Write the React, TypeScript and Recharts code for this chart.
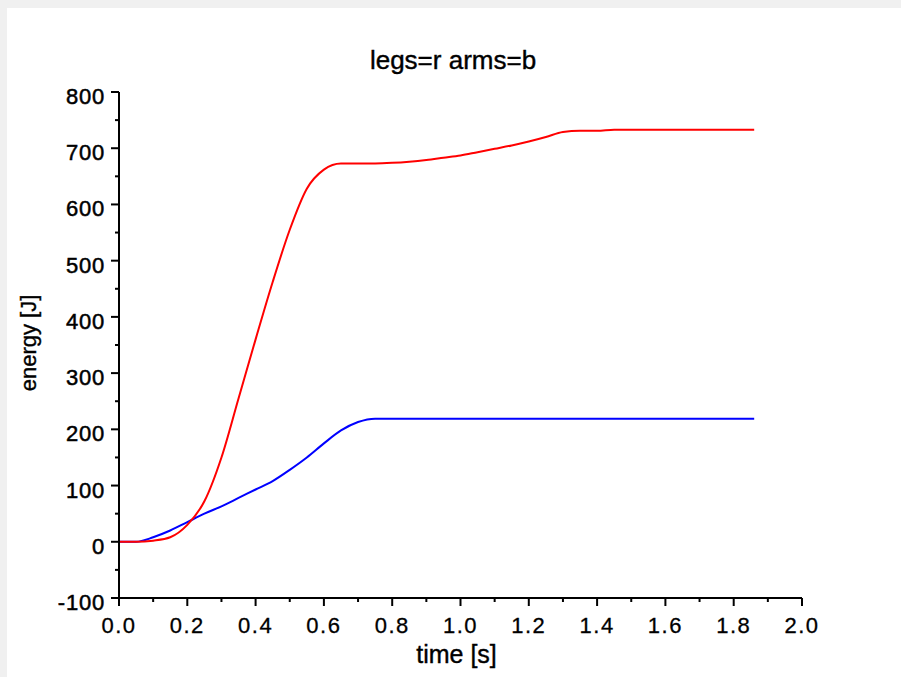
import { LineChart, Line, XAxis, YAxis } from 'recharts'

const times = [
  0, 0.05, 0.1, 0.15, 0.2, 0.25, 0.3, 0.35, 0.4, 0.45, 0.5, 0.55, 0.6, 0.65, 0.7, 0.75,
  0.8, 0.85, 0.9, 0.95, 1.0, 1.05, 1.1, 1.15, 1.2, 1.25, 1.3, 1.35, 1.4, 1.45, 1.5, 1.6,
  1.7, 1.8, 1.86,
]
const legs = [
  0, 0, 2, 8, 30, 72, 150, 255, 360, 462, 555, 628, 662, 673, 673, 673,
  674, 676, 679, 683, 687, 693, 699, 705, 712, 720, 729, 731, 731, 733, 733, 733,
  733, 733, 733,
]
const arms = [
  0, 0, 8, 20, 35, 50, 63, 78, 93, 108, 128, 150, 175, 198, 213, 219,
  219, 219, 219, 219, 219, 219, 219, 219, 219, 219, 219, 219, 219, 219, 219, 219,
  219, 219, 219,
]
const xTicks = [0, 0.1, 0.2, 0.3, 0.4, 0.5, 0.6, 0.7, 0.8, 0.9, 1.0, 1.1, 1.2, 1.3, 1.4, 1.5, 1.6, 1.7, 1.8, 1.9, 2.0]
const yTicks = [-100, -50, 0, 50, 100, 150, 200, 250, 300, 350, 400, 450, 500, 550, 600, 650, 700, 750, 800]

const data = times.map((t, i) => ({ t, legs: legs[i], arms: arms[i] }))

const FONT = '"Liberation Sans", Arial, sans-serif'

const XTick = ({ x, y, payload, index }: any) => {
  const major = index % 2 === 0
  return (
    <g>
      <line x1={x} x2={x} y1={y} y2={y + (major ? 8 : 4)} stroke="#000" strokeWidth={2} />
      {major && (
        <text x={x} y={y + 35} textAnchor="middle" fontFamily={FONT} fontSize={22} fill="#000" stroke="#000" strokeWidth={0.3} letterSpacing={1.5}>
          {payload.value.toFixed(1)}
        </text>
      )}
    </g>
  )
}

const YTick = ({ x, y, payload, index }: any) => {
  const major = index % 2 === 0
  return (
    <g>
      <line x1={x} x2={x - (major ? 8 : 4)} y1={y} y2={y} stroke="#000" strokeWidth={2} />
      {major && (
        <text x={x - 14} y={y + 12} textAnchor="end" fontFamily={FONT} fontSize={22} fill="#000" stroke="#000" strokeWidth={0.5} letterSpacing={0.8}>
          {payload.value}
        </text>
      )}
    </g>
  )
}

const YLabel = ({ viewBox }: any) => {
  const cx = 21
  const cy = viewBox.y + viewBox.height / 2 - 2
  return (
    <text
      x={cx}
      y={cy}
      transform={`rotate(-90, ${cx}, ${cy})`}
      textAnchor="middle"
      dominantBaseline="central"
      fontFamily={FONT}
      fontSize={22}
      fill="#000"
      stroke="#000"
      strokeWidth={0.4}
    >
      energy [J]
    </text>
  )
}

const XLabel = ({ viewBox }: any) => {
  const cx = viewBox.x + viewBox.width / 2 - 4
  const cy = viewBox.y + viewBox.height - 14
  return (
    <text x={cx} y={cy} textAnchor="middle" fontFamily={FONT} fontSize={25} fill="#000" stroke="#000" strokeWidth={0.4}>
      time [s]
    </text>
  )
}

export default function App() {
  return (
    <>
      <style>{'body{margin:0;background:#f0f0f0;overflow:hidden}'}</style>
      <div style={{ position: 'absolute', left: 7, top: 8, width: 894, height: 669, background: '#fff' }}>
        <div
          style={{
            position: 'absolute',
            left: -1,
            width: 894,
            top: 37,
            textAlign: 'center',
            fontFamily: FONT,
            fontSize: 26,
            color: '#000',
            WebkitTextStroke: '0.4px #000',
          }}
        >
          legs=r arms=b
        </div>
        <LineChart width={894} height={669} data={data} margin={{ top: 84, right: 99, left: 0, bottom: 0 }}>
          <XAxis
            dataKey="t"
            type="number"
            domain={[0, 2]}
            ticks={xTicks}
            interval={0}
            height={79}
            stroke="#000"
            strokeWidth={2}
            tickSize={0}
            tickMargin={0}
            tickLine={false}
            tick={<XTick />}
            label={<XLabel />}
          />
          <YAxis
            type="number"
            domain={[-100, 800]}
            ticks={yTicks}
            interval={0}
            width={112}
            stroke="#000"
            strokeWidth={2}
            tickSize={0}
            tickMargin={0}
            tickLine={false}
            tick={<YTick />}
            label={<YLabel />}
          />
          <Line dataKey="arms" type="monotone" stroke="#0000ff" strokeWidth={2} dot={false} isAnimationActive={false} />
          <Line dataKey="legs" type="monotone" stroke="#ff0000" strokeWidth={2} dot={false} isAnimationActive={false} />
        </LineChart>
      </div>
    </>
  )
}
